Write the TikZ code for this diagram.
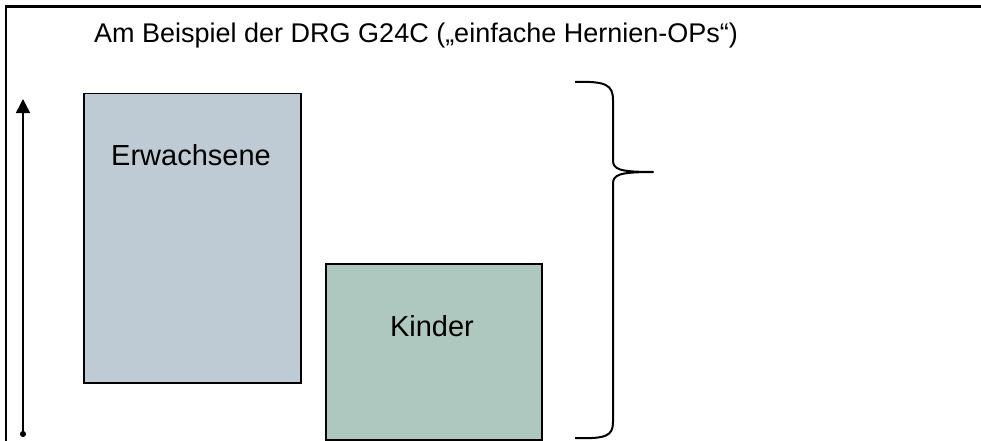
\documentclass[tikz,border=0pt]{standalone}
\usepackage{fontspec}
\setmainfont{Liberation Sans}
\usepackage{tikz}
\usetikzlibrary{arrows.meta, positioning}
\definecolor{erwfill}{RGB}{191,203,212}
\definecolor{kindfill}{RGB}{175,200,191}

\begin{document}
\begin{tikzpicture}[x=1pt, y=-1pt,
	box/.style={draw, line width=1.5pt, inner sep=0pt, anchor=north west},
	lbl/.style={inner sep=0pt, font=\fontsize{29}{34}\selectfont}]

% all coordinates are pixels of the 981 x 441 picture, y pointing down
\useasboundingbox (0,0) rectangle (981,441);

\def \xfr{6}
\def \yfr{6.5}

\draw[line width=2.2pt] (\xfr, 445) -- (\xfr, \yfr) -- (985, \yfr); % frame

\node[anchor=base west, inner sep=0pt, font=\fontsize{27}{32}\selectfont] (title) at (94, 43) {Am Beispiel der DRG G24C („einfache Hernien-OPs“)};

\node[box, fill=erwfill, minimum width=217pt, minimum height=289pt] (erw) at (83, 93) {};
\node[box, fill=kindfill, minimum width=216pt, minimum height=176pt] (kind) at (325, 263) {};

\node[lbl] (erwtxt) at (191, 155) {Erwachsene};
\node[lbl] (kindtxt) at (432, 326) {Kinder};

% cost axis
\coordinate (axlow) at (23, 437);
\coordinate (axhigh) at (23, 99);
\draw[line width=1.5pt, {Circle[length=6pt]}-{Triangle[length=14pt, width=14pt]}] (axlow) -- (axhigh);

% brace on the right
\coordinate (brtop) at (575, 82);
\coordinate (brtip) at (653, 172);
\coordinate (brbot) at (575, 438);
\draw[line width=2pt, line join=round] (brtop) .. controls (606, 81) and (613, 85) .. (613, 100)
	-- (613, 160) .. controls (613, 169) and (618, 172) .. (brtip)
	.. controls (618, 172) and (613, 175) .. (613, 184)
	-- (613, 422) .. controls (613, 436) and (606, 439) .. (brbot);

\end{tikzpicture}
\end{document}
